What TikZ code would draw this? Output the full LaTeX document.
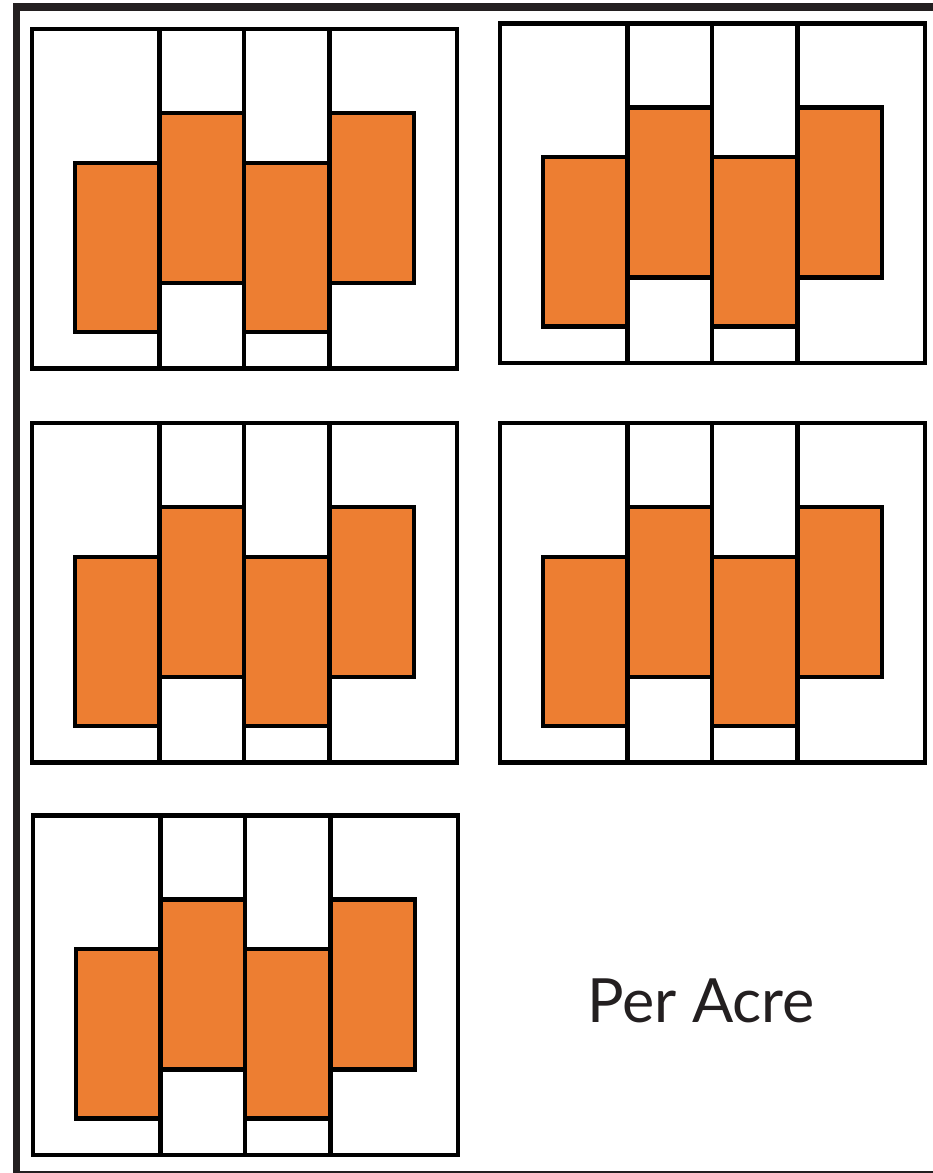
\documentclass[tikz,border=0pt]{standalone}
\usepackage{fontspec}
\newfontfamily\labelfont{Lato}
\definecolor{frameink}{HTML}{231F20}
\definecolor{plotorange}{HTML}{ED7E32}
\begin{document}
\begin{tikzpicture}[x=1pt,y=-1pt,
  frameline/.style={draw=frameink,line width=7.5pt},
  tileline/.style={draw=black,line width=4.3pt},
  plotbox/.style={tileline,fill=plotorange},
  labeltext/.style={text=frameink,font=\labelfont\fontsize{61}{63}\selectfont,inner sep=0pt}]
\useasboundingbox (0,0) rectangle (932,1173);
% outer frame (cropped on the right and bottom)
\draw[frameline] (16.5,7.2) rectangle (960,1174.8);
% tile macro
\newcommand{\plottile}[2]{%
  \begin{scope}[shift={(#1,#2)}]
    \draw[tileline] (0,0) rectangle (425,339.5);
    \draw[tileline] (127.5,0) -- (127.5,339.5);
    \draw[tileline] (212,0) -- (212,339.5);
    \draw[tileline] (297.5,0) -- (297.5,339.5);
    \draw[plotbox] (42.7,133.7) rectangle (127.5,303);
    \draw[plotbox] (127.5,84) rectangle (212,254);
    \draw[plotbox] (212,133.7) rectangle (297.5,303);
    \draw[plotbox] (297.5,84) rectangle (382,254);
  \end{scope}}
\plottile{32}{29}
\plottile{500}{23.5}
\plottile{32}{423}
\plottile{500}{423}
\plottile{33}{815.5}
\node[labeltext,anchor=base] (label) at (701,1022.7) {Per Acre};
\end{tikzpicture}
\end{document}
